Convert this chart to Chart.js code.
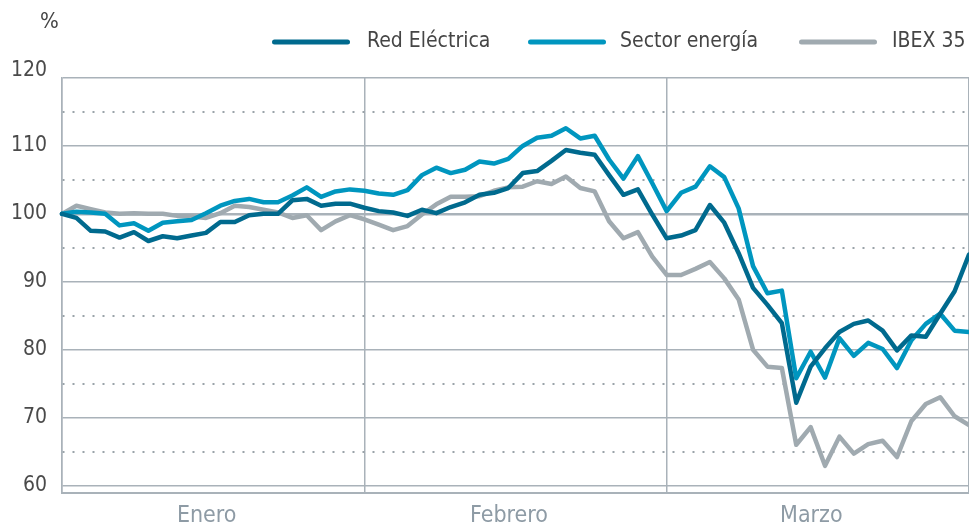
<!DOCTYPE html>
<html><head><meta charset="utf-8">
<script src="https://cdn.jsdelivr.net/npm/chart.js@4"></script>
<style>html,body{margin:0;padding:0;background:#fff}#wrap{width:969px;height:528px;position:relative}</style>
</head><body><div id="wrap"><canvas id="c" width="969" height="528" style="width:969px;height:528px"></canvas></div>
<script>
const months = ['Enero', 'Febrero', 'Marzo'];
const seriesNames = ['Red Eléctrica', 'Sector energía', 'IBEX 35'];
const yTickValues = [60, 65, 70, 75, 80, 85, 90, 95, 100, 105, 110, 115, 120];
const redElectrica = [100, 99.4, 97.5, 97.4, 96.5, 97.3, 96.0, 96.7, 96.4, 96.8, 97.2, 98.8, 98.8, 99.8, 100.0, 100.0, 102.0, 102.2, 101.2, 101.5, 101.5,
  100.9, 100.4, 100.2, 99.7, 100.6, 100.1, 101.0, 101.7, 102.8, 103.1, 103.8, 106.0, 106.3, 107.8, 109.4, 109.0, 108.7, 105.7, 102.8, 103.6,
  99.9, 96.4, 96.8, 97.6, 101.3, 98.7, 94.2, 89.1, 86.6, 83.9, 72.2, 77.5, 80.2, 82.6, 83.8, 84.3, 82.8, 79.9, 82.1, 81.9, 85.3, 88.6, 94.0];
const sectorEnergia = [100, 100.3, 100.2, 100.0, 98.3, 98.6, 97.5, 98.7, 98.9, 99.1, 100.1, 101.2, 101.9, 102.2, 101.7, 101.7, 102.7, 103.9, 102.5, 103.3, 103.6,
  103.4, 103.0, 102.8, 103.5, 105.7, 106.8, 106.0, 106.5, 107.7, 107.4, 108.1, 110.0, 111.2, 111.5, 112.6, 111.1, 111.5, 108.0, 105.2, 108.5,
  104.5, 100.4, 103.1, 104.0, 107.0, 105.4, 100.8, 92.3, 88.3, 88.7, 75.8, 79.7, 75.9, 81.7, 79.1, 81.0, 80.1, 77.3, 81.4, 83.8, 85.3, 82.8, 82.6];
const ibex35 = [100, 101.2, 100.7, 100.2, 100.0, 100.1, 100.0, 100.0, 99.7, 99.6, 99.4, 100.1, 101.2, 101.0, 100.6, 100.2, 99.4, 99.8, 97.6, 98.9, 99.8,
  99.2, 98.4, 97.6, 98.2, 99.9, 101.4, 102.5, 102.5, 102.6, 103.4, 103.9, 104.0, 104.8, 104.4, 105.5, 103.8, 103.3, 98.9, 96.4, 97.3,
  93.7, 91.0, 91.0, 91.9, 92.9, 90.5, 87.4, 80.0, 77.5, 77.3, 66.0, 68.6, 62.9, 67.2, 64.7, 66.1, 66.6, 64.2, 69.5, 72.0, 73.0, 70.2, 68.9];

const FONT = "'Liberation Sans Narrow', 'DejaVu Sans Condensed', Roboto, sans-serif";
const COLORS = ['#006a8e', '#0096bf', '#a0aab0'];
const GRID = '#a9b2b9';
const perMonth = 21;
const labelShift = -0.45;
const nPts = redElectrica.length;

const toXY = arr => arr.map((v, i) => ({x: i, y: v}));
const allSeries = [redElectrica, sectorEnergia, ibex35];

const overlay = {
  id: 'overlay',
  afterDraw(chart) {
    const ctx = chart.ctx;
    ctx.save();
    ctx.font = '21px ' + FONT;
    ctx.fillStyle = '#454545';
    ctx.textBaseline = 'middle';
    ctx.textAlign = 'left';
    const lineStarts = [272, 528, 799];
    const textStarts = [367, 620, 892];
    const y = 42;
    for (let i = 0; i < seriesNames.length; i++) {
      ctx.strokeStyle = COLORS[i];
      ctx.lineWidth = 5;
      ctx.lineCap = 'round';
      ctx.beginPath();
      ctx.moveTo(lineStarts[i] + 2.5, y);
      ctx.lineTo(lineStarts[i] + 78 - 2.5, y);
      ctx.stroke();
      ctx.fillText(seriesNames[i], textStarts[i], y);
    }
    ctx.font = '22px ' + FONT;
    ctx.fillText('%', 40, 22);
    ctx.restore();
  }
};

new Chart(document.getElementById('c'), {
  type: 'line',
  data: {
    datasets: allSeries.map((arr, i) => ({
      label: seriesNames[i],
      data: toXY(arr),
      borderColor: COLORS[i],
      backgroundColor: COLORS[i],
      borderWidth: 4.5,
      pointRadius: 0,
      tension: 0,
      borderJoinStyle: 'round',
      borderCapStyle: 'round',
      clip: false
    }))
  },
  options: {
    responsive: false,
    animation: false,
    devicePixelRatio: 1,
    layout: {padding: {top: 78, right: 0, bottom: 0, left: 0}},
    plugins: {legend: {display: false}, tooltip: {enabled: false}},
    scales: {
      x: {
        type: 'linear',
        min: 0,
        max: nPts - 1,
        afterBuildTicks: s => {
          const t = [];
          for (let m = 0; m <= months.length; m++) {
            t.push({value: m * perMonth});
            if (m < months.length) t.push({value: m * perMonth + perMonth / 2 + labelShift});
          }
          s.ticks = t;
        },
        afterFit: s => { s.height = 35; s.paddingRight = 0; s.paddingLeft = 0; },
        ticks: {
          autoSkip: false,
          maxRotation: 0,
          padding: 9,
          color: '#8e9ba5',
          font: {family: FONT, size: 23},
          callback: v => (v % perMonth === 0) ? '' : months[Math.floor(v / perMonth)]
        },
        grid: {
          drawTicks: false,
          lineWidth: 1.5,
          color: c => (c.tick && c.tick.value % perMonth === 0) ? GRID : 'rgba(0,0,0,0)'
        },
        border: {display: true, color: GRID, width: 2}
      },
      y: {
        min: 58.9,
        max: 120,
        afterBuildTicks: s => { s.ticks = yTickValues.map(v => ({value: v})); },
        afterFit: s => { s.width = 62; },
        ticks: {
          autoSkip: false,
          padding: 15,
          color: '#4a4a4a',
          font: {family: FONT, size: 21, lineHeight: 0.75},
          callback: v => v % 10 !== 0 ? '' : (v === 120 ? ['120', ''] : String(v))
        },
        grid: {
          drawTicks: false,
          color: c => (c.tick && c.tick.value % 10 !== 0) ? '#9aa3a9' : GRID,
          lineWidth: c => (c.tick && c.tick.value === 100) ? 2.5 : (c.tick && c.tick.value % 10 !== 0 ? 2 : 1.5)
        },
        border: {
          display: true,
          color: GRID,
          width: 1.5,
          dash: c => (c.tick && c.tick.value % 10 !== 0) ? [2, 8] : []
        }
      }
    }
  },
  plugins: [overlay]
});
</script>
</body></html>
